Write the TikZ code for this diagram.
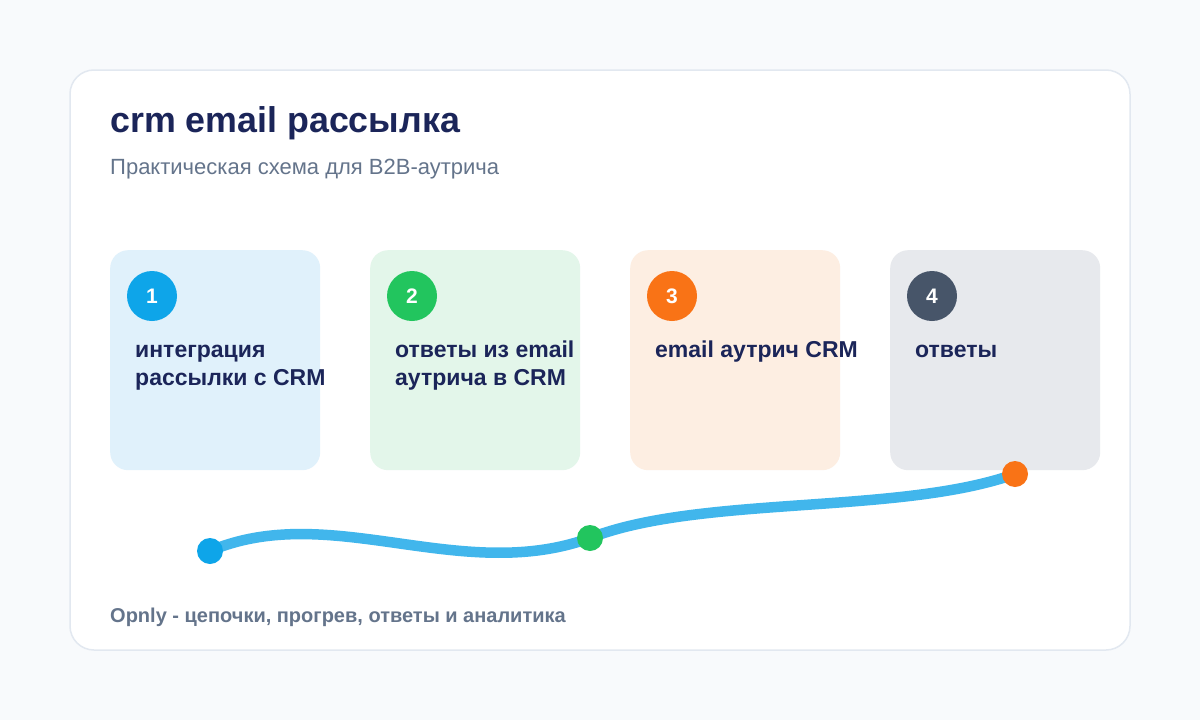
\documentclass[tikz,border=0pt]{standalone}
\usepackage{fontspec}
\setmainfont{Liberation Sans}
\usetikzlibrary{calc}
\definecolor{pagebg}{HTML}{F8FAFC}
\definecolor{cardline}{HTML}{E2E8F0}
\definecolor{ink}{HTML}{1B2559}
\definecolor{muted}{HTML}{64748B}
\definecolor{fillblue}{HTML}{E0F1FB}
\definecolor{fillgreen}{HTML}{E3F6EA}
\definecolor{fillorange}{HTML}{FDEEE2}
\definecolor{fillgray}{HTML}{E7E9ED}
\definecolor{dotblue}{HTML}{0EA5E9}
\definecolor{dotgreen}{HTML}{22C55E}
\definecolor{dotorange}{HTML}{F97316}
\definecolor{dotslate}{HTML}{475569}
\definecolor{wave}{HTML}{41B6EC}
\tikzset{
  stagebox/.style = {minimum width=210pt, minimum height=220pt, rounded corners=18pt, anchor=north west, inner sep=0pt},
  badge/.style = {circle, minimum size=50pt, inner sep=0pt, text=white, font=\fontsize{21}{24}\selectfont\bfseries},
  stagetext/.style = {anchor=north west, inner sep=0pt, align=left, text=ink, font=\fontsize{23}{28}\selectfont\bfseries},
  waypoint/.style = {circle, minimum size=26pt, inner sep=0pt},
}

\begin{document}
\begin{tikzpicture}[x=1pt, y=-1pt, line join = round]
    \fill[pagebg] (0,0) rectangle (1200,720);
    \draw[cardline, line width=1.5pt, fill=white, rounded corners=24pt] (70,70) rectangle (1130,650);
    \node[anchor=base west, inner sep=0pt, text=ink, font=\fontsize{35.8}{40}\selectfont\bfseries] (title) at (110,132) {crm email рассылка};
    \node[anchor=base west, inner sep=0pt, text=muted, font=\fontsize{22}{26}\selectfont] (subtitle) at (110,174) {Практическая схема для B2B-аутрича};

    \node[stagebox, fill=fillblue] (box1) at (110,250) {};
    \node[stagebox, fill=fillgreen] (box2) at (370,250) {};
    \node[stagebox, fill=fillorange] (box3) at (630,250) {};
    \node[stagebox, fill=fillgray] (box4) at (890,250) {};

    \node[badge, fill=dotblue] (num1) at ($(box1.north west)+(42,46)$) {1};
    \node[badge, fill=dotgreen] (num2) at ($(box2.north west)+(42,46)$) {2};
    \node[badge, fill=dotorange] (num3) at ($(box3.north west)+(42,46)$) {3};
    \node[badge, fill=dotslate] (num4) at ($(box4.north west)+(42,46)$) {4};

    \node[stagetext] (label1) at ($(box1.north west)+(25,87.4)$) {\strut интеграция\\рассылки с CRM};
    \node[stagetext] (label2) at ($(box2.north west)+(25,87.4)$) {\strut ответы из email\\аутрича в CRM};
    \node[stagetext] (label3) at ($(box3.north west)+(25,87.4)$) {\strut email аутрич CRM};
    \node[stagetext] (label4) at ($(box4.north west)+(25,87.4)$) {\strut ответы};

    \coordinate (start) at (210,551);
    \coordinate (middle) at (590,538);
    \coordinate (finish) at (1015,474);
    \draw[wave, line width=10.5pt, line cap=round] (start) .. controls (330,500) and (460,585) .. (middle) .. controls (700,495) and (900,515) .. (finish);
    \node[waypoint, fill=dotblue] (dot1) at (start) {};
    \node[waypoint, fill=dotgreen] (dot2) at (middle) {};
    \node[waypoint, fill=dotorange] (dot3) at (finish) {};

    \node[anchor=base west, inner sep=0pt, text=muted, font=\fontsize{20}{24}\selectfont\bfseries] (footer) at (110,622) {Opnly - цепочки, прогрев, ответы и аналитика};
\end{tikzpicture}
\end{document}
